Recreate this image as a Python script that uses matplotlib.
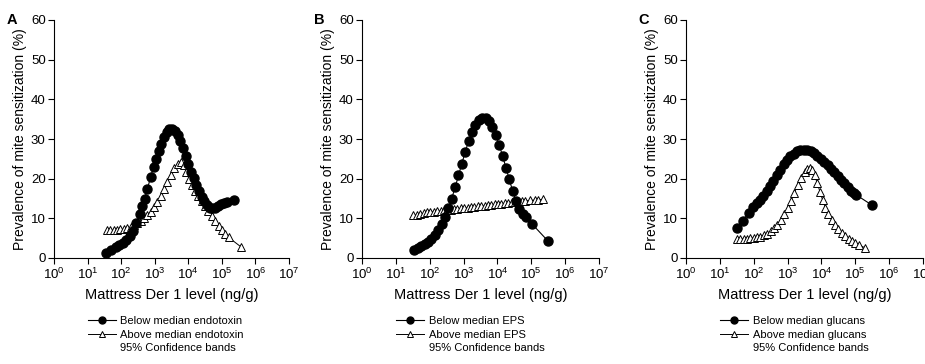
import matplotlib
matplotlib.use("Agg")
import matplotlib.pyplot as plt
import numpy as np
from matplotlib.lines import Line2D
from matplotlib.ticker import NullLocator, FixedLocator

plt.rcParams['font.family'] = ['Liberation Sans', 'DejaVu Sans']

# Der 1 level, log10(ng/g), and prevalence (%)
a_below_log = [1.55, 1.70, 1.85, 1.95, 2.05, 2.15, 2.25, 2.35, 2.45, 2.55, 2.62, 2.70,
               2.78, 2.88, 2.97, 3.05, 3.12, 3.20, 3.28, 3.36, 3.44, 3.52, 3.60, 3.68,
               3.76, 3.84, 3.92, 4.00, 4.08, 4.16, 4.24, 4.32, 4.40, 4.48, 4.56, 4.64,
               4.72, 4.80, 4.88, 4.96, 5.05, 5.15, 5.36]
a_below = [1.2, 1.9, 2.7, 3.3, 3.9, 4.5, 5.5, 6.9, 8.8, 11.0, 13.0, 15.0,
           17.3, 20.5, 23.0, 25.0, 27.0, 28.8, 30.5, 31.7, 32.5, 32.6, 32.0, 31.0,
           29.6, 27.8, 25.8, 23.8, 21.8, 20.2, 18.5, 17.0, 15.5, 14.3, 13.3, 12.7,
           12.5, 12.7, 13.1, 13.5, 13.9, 14.2, 14.5]
a_above_log = [1.58, 1.68, 1.78, 1.88, 1.98, 2.08, 2.18, 2.28, 2.38, 2.48, 2.58, 2.68,
               2.78, 2.88, 2.98, 3.08, 3.18, 3.28, 3.38, 3.48, 3.58, 3.68, 3.78, 3.86,
               3.94, 4.02, 4.10, 4.20, 4.30, 4.40, 4.50, 4.60, 4.70, 4.80, 4.90, 5.00,
               5.10, 5.20, 5.57]
a_above = [7.0, 7.0, 7.0, 7.1, 7.2, 7.3, 7.5, 7.8, 8.2, 8.7, 9.3, 10.0,
           10.8, 11.7, 12.8, 14.1, 15.6, 17.3, 19.2, 21.0, 22.6, 23.8, 24.3, 23.5,
           21.8, 20.0, 18.5, 16.9, 15.6, 14.3, 13.0, 11.8, 10.6, 9.3, 8.1, 7.0,
           6.0, 5.2, 2.8]

b_below_log = [1.55, 1.65, 1.75, 1.85, 1.95, 2.05, 2.15, 2.25, 2.35, 2.45, 2.55, 2.65,
               2.75, 2.85, 2.95, 3.05, 3.15, 3.25, 3.35, 3.45, 3.55, 3.65, 3.75, 3.85,
               3.95, 4.05, 4.15, 4.25, 4.35, 4.45, 4.55, 4.65, 4.75, 4.83, 5.02, 5.48]
b_below = [1.9, 2.4, 3.0, 3.5, 4.1, 4.9, 5.8, 7.0, 8.5, 10.3, 12.5, 15.0,
           17.8, 20.8, 23.8, 26.8, 29.5, 31.8, 33.6, 34.8, 35.3, 35.2, 34.5, 33.0,
           31.0, 28.6, 25.8, 22.8, 19.8, 16.9, 14.3, 12.3, 11.0, 10.4, 8.6, 4.4]
b_above_log = [1.51, 1.62, 1.72, 1.82, 1.92, 2.02, 2.12, 2.22, 2.32, 2.42, 2.52, 2.62,
               2.72, 2.82, 2.92, 3.02, 3.12, 3.22, 3.32, 3.42, 3.52, 3.62, 3.72, 3.82,
               3.92, 4.02, 4.12, 4.22, 4.32, 4.42, 4.52, 4.62, 4.72, 4.82, 4.95, 5.10,
               5.20, 5.35]
b_above = [10.8, 10.9, 11.1, 11.3, 11.5, 11.6, 11.7, 11.8, 11.9, 12.0, 12.1, 12.2,
           12.3, 12.4, 12.5, 12.6, 12.7, 12.8, 12.9, 13.0, 13.1, 13.2, 13.3, 13.4,
           13.5, 13.6, 13.7, 13.8, 13.9, 14.0, 14.1, 14.2, 14.3, 14.4, 14.5, 14.6,
           14.7, 14.8]

c_below_log = [1.50, 1.67, 1.85, 1.99, 2.10, 2.18, 2.28, 2.38, 2.48, 2.58, 2.68, 2.78,
               2.88, 2.98, 3.08, 3.18, 3.28, 3.38, 3.48, 3.58, 3.68, 3.78, 3.88, 3.98,
               4.08, 4.18, 4.28, 4.38, 4.48, 4.58, 4.68, 4.78, 4.88, 4.96, 5.03, 5.48]
c_below = [7.5, 9.3, 11.4, 12.8, 13.9, 14.7, 15.7, 16.8, 18.1, 19.5, 20.9, 22.3,
           23.6, 24.7, 25.6, 26.3, 26.9, 27.2, 27.3, 27.2, 26.9, 26.4, 25.8, 25.0,
           24.2, 23.4, 22.5, 21.6, 20.6, 19.7, 18.8, 17.9, 17.0, 16.4, 15.9, 13.4]
c_above_log = [1.50, 1.60, 1.70, 1.80, 1.90, 2.00, 2.10, 2.20, 2.30, 2.40, 2.50, 2.60,
               2.70, 2.80, 2.90, 3.00, 3.10, 3.20, 3.30, 3.40, 3.50, 3.58, 3.65, 3.72,
               3.80, 3.88, 3.96, 4.04, 4.12, 4.20, 4.30, 4.40, 4.50, 4.60, 4.70, 4.80,
               4.90, 5.00, 5.10, 5.28]
c_above = [4.8, 4.8, 4.9, 4.9, 5.0, 5.1, 5.2, 5.4, 5.7, 6.1, 6.7, 7.5,
           8.4, 9.6, 11.0, 12.6, 14.4, 16.4, 18.4, 20.2, 21.6, 22.4, 22.7, 22.2,
           20.8, 18.8, 16.6, 14.5, 12.7, 11.1, 9.6, 8.3, 7.2, 6.3, 5.5, 4.8,
           4.2, 3.7, 3.3, 2.6]

panels = [
    ("A", "endotoxin", a_below_log, a_below, a_above_log, a_above),
    ("B", "EPS", b_below_log, b_below, b_above_log, b_above),
    ("C", "glucans", c_below_log, c_below, c_above_log, c_above),
]
lefts = [54 / 925, 362 / 925, 686 / 925]
widths = [235 / 925, 237 / 925, 237 / 925]

fig = plt.figure(figsize=(9.25, 3.64), dpi=100)

for (letter, name, bl, bv, al, av), left, w in zip(panels, lefts, widths):
    ax = fig.add_axes([left, 1 - 258 / 364, w, 238 / 364])
    ax.plot(10 ** np.array(bl), bv, color="black", lw=0.8, marker="o",
            ms=6.5, mfc="black", mec="black", zorder=3)
    ax.plot(10 ** np.array(al), av, color="black", lw=0.7, marker="^",
            ms=6, mfc="white", mec="black", mew=0.7, zorder=2)
    ax.set_xscale("log")
    ax.set_xlim(1, 1e7)
    ax.set_ylim(0, 60)
    ax.xaxis.set_major_locator(FixedLocator([10.0 ** k for k in range(8)]))
    ax.xaxis.set_minor_locator(NullLocator())
    ax.set_yticks(range(0, 61, 10))
    for s in ("top", "right"):
        ax.spines[s].set_visible(False)
    for s in ("left", "bottom"):
        ax.spines[s].set_linewidth(0.8)
    ax.tick_params(direction="out", length=4, width=0.8, labelsize=9.5, pad=2)
    ax.set_xlabel("Mattress Der 1 level (ng/g)", fontsize=10.5, labelpad=5)
    ax.set_ylabel("Prevalence of mite sensitization (%)", fontsize=10, labelpad=3)
    ax.text(-0.18, 1.0, letter, transform=ax.transAxes, fontsize=10.5,
            fontweight="bold", ha="center", va="center")

    handles = [
        Line2D([], [], color="black", lw=0.8, marker="o", ms=5, mfc="black"),
        Line2D([], [], color="black", lw=0.7, marker="^", ms=5, mfc="white", mew=0.7),
        Line2D([], [], color="none"),
    ]
    labels = ["Below median " + name, "Above median " + name, "95% Confidence bands"]
    ax.legend(handles, labels, loc="upper left", bbox_to_anchor=(0.145, -0.245),
              frameon=False, fontsize=8, handlelength=2.5, handletextpad=0.4,
              labelspacing=0.3, borderaxespad=0, borderpad=0)

fig.savefig("out.png", dpi=100)
